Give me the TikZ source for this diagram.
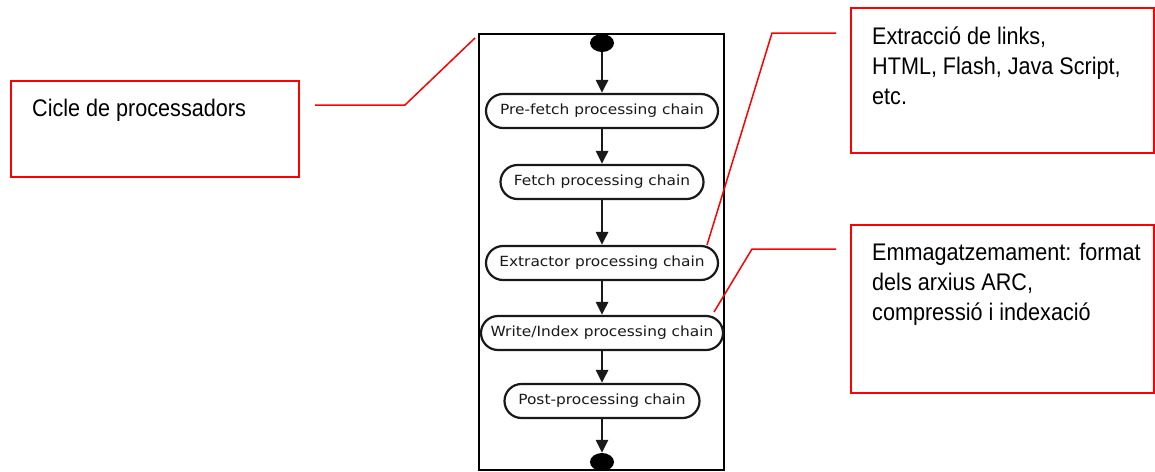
\documentclass[tikz,border=0pt]{standalone}
\usepackage{fontspec}
\newfontfamily\chainfont[FakeStretch=1.1]{DejaVu Sans}
\newfontfamily\notefont[FakeStretch=0.9]{Liberation Sans}
\usetikzlibrary{arrows.meta,shapes.geometric}

\begin{document}
\begin{tikzpicture}[x=1pt,y=-1pt,
  chain/.style={draw=black!90, line width=2.2pt, fill=white, rounded corners=17pt,
    minimum height=34pt, inner sep=0pt,
    font=\chainfont\fontsize{14}{16}\selectfont, text=black!90},
  terminal/.style={ellipse, fill=black, minimum width=24pt, minimum height=18pt, inner sep=0pt},
  flow/.style={draw=black!90, line width=2.8pt, -{Triangle[width=12pt,length=13pt]}},
  notebox/.style={draw=red, line width=1.5pt, inner sep=0pt},
  notetext/.style={font=\notefont\fontsize{24}{30}\selectfont, align=left,
    inner sep=0pt, anchor=base west, text=black},
  leader/.style={draw=red, line width=1.5pt}
]
\useasboundingbox (0,0) rectangle (1155,471);
\fill[white] (0,0) rectangle (1155,471);

% frame around the processing cycle
\draw[black, line width=2pt] (479,34) rectangle (724,470);

% processing chains
\node[terminal] (start) at (602,43) {};
\node[chain, minimum width=232pt] (pre) at (602,111) {Pre-fetch processing chain};
\node[chain, minimum width=203pt] (fetch) at (602,182) {Fetch processing chain};
\node[chain, minimum width=232pt] (extract) at (602,263) {Extractor processing chain};
\node[chain, minimum width=242pt] (write) at (602,333) {Write/Index processing chain};
\node[chain, minimum width=195pt] (post) at (602,401) {Post-processing chain};
\node[terminal] (stop) at (602,462) {};

\draw[flow] (start) -- (pre);
\draw[flow] (pre) -- (fetch);
\draw[flow] (fetch) -- (extract);
\draw[flow] (extract) -- (write);
\draw[flow] (write) -- (post);
\draw[flow] (post) -- (stop);

% annotation boxes (multi-line texts are placed by the baseline of their last line)
\node[notebox, minimum width=288pt, minimum height=96pt] (cyclebox) at (155,129) {};
\node[notetext] (cycletext) at (32,116) {Cicle de processadors};

\node[notebox, minimum width=303pt, minimum height=145pt] (linkbox) at (1002.5,80.5) {};
\node[notetext] (linktext) at (872,104) {Extracció de links,\\HTML, Flash, Java Script,\\etc.};

\node[notebox, minimum width=303pt, minimum height=168pt] (storebox) at (1002.5,309) {};
\node[notetext] (storetext) at (872,320) {Emmagatzemament: format\\dels arxius ARC,\\compressió i indexació};

% leader lines
\coordinate (c1a) at (315,105);
\coordinate (c1b) at (405,105);
\coordinate (c1c) at (475,38);
\draw[leader] (c1a) -- (c1b) -- (c1c);

\coordinate (c2a) at (836,33);
\coordinate (c2b) at (772,33);
\coordinate (c2c) at (707,245);
\draw[leader] (c2a) -- (c2b) -- (c2c);

\coordinate (c3a) at (836,249);
\coordinate (c3b) at (752,249);
\coordinate (c3c) at (714,312);
\draw[leader] (c3a) -- (c3b) -- (c3c);
\end{tikzpicture}
\end{document}
